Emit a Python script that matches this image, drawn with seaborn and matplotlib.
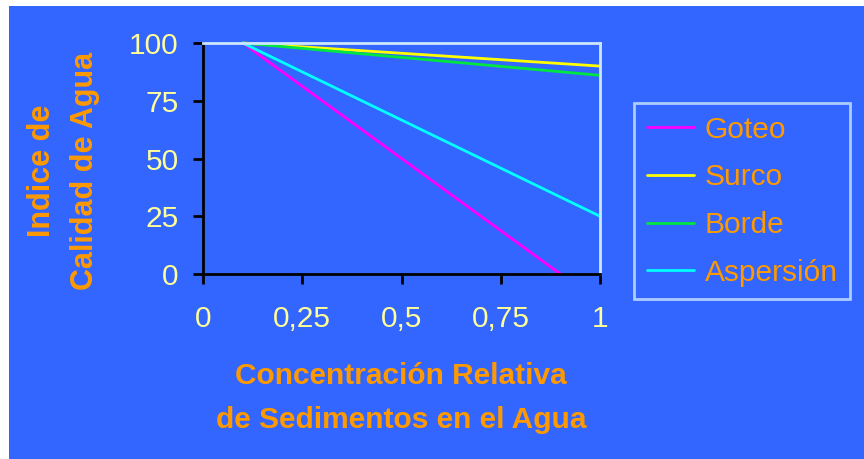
import matplotlib
matplotlib.use("Agg")
import matplotlib.pyplot as plt
import seaborn as sns
import pandas as pd

# Data: relative sediment concentration vs. water quality index per irrigation method
metodos = ["Goteo", "Surco", "Borde", "Aspersión"]
conc_goteo = [0.1, 0.9]
indice_goteo = [100, 0]
conc_surco = [0.1, 1.0]
indice_surco = [100, 90]
conc_borde = [0.1, 1.0]
indice_borde = [100, 86]
conc_aspersion = [0.1, 1.0]
indice_aspersion = [100, 25]
colores = ["#FF00FF", "#FFFF00", "#00E640", "#00FFFF"]

x_ticks = [0, 0.25, 0.5, 0.75, 1]
x_ticklabels = ["0", "0,25", "0,5", "0,75", "1"]
y_ticks = [0, 25, 50, 75, 100]
y_ticklabels = ["0", "25", "50", "75", "100"]

df = pd.concat([
    pd.DataFrame({"conc": conc_goteo, "indice": indice_goteo, "metodo": "Goteo"}),
    pd.DataFrame({"conc": conc_surco, "indice": indice_surco, "metodo": "Surco"}),
    pd.DataFrame({"conc": conc_borde, "indice": indice_borde, "metodo": "Borde"}),
    pd.DataFrame({"conc": conc_aspersion, "indice": indice_aspersion, "metodo": "Aspersión"}),
], ignore_index=True)

sns.set_style("ticks")
plt.rcParams["font.family"] = ["Liberation Sans", "DejaVu Sans"]

BLUE = "#3366FF"
ORANGE = "#FF9900"
TICKC = "#FFFF99"
FRAME = "#CCE6FF"

W, H = 864, 459
fig = plt.figure(figsize=(W / 100, H / 100), dpi=100)
fig.patch.set_facecolor("white")
# blue panel behind everything
fig.patches.append(plt.Rectangle((9 / W, 0), 1 - 9 / W, 1 - 6 / H,
                                 transform=fig.transFigure, facecolor=BLUE,
                                 edgecolor="none", zorder=-10))

ax = fig.add_axes([203 / W, 1 - 274 / H, (600 - 203) / W, (274 - 43) / H])
ax.set_facecolor(BLUE)

sns.lineplot(data=df, x="conc", y="indice", hue="metodo", hue_order=metodos,
             palette=colores, linewidth=2, ax=ax, legend=False)
for ln in ax.lines:
    ln.set_clip_on(False)

ax.set_xlim(0, 1)
ax.set_ylim(0, 100)
ax.set_xticks(x_ticks)
ax.set_xticklabels(x_ticklabels)
ax.set_yticks(y_ticks)
ax.set_yticklabels(y_ticklabels)
ax.tick_params(axis="both", direction="out", length=7.5, width=2, color="black",
               labelcolor=TICKC, labelsize=21.5)
ax.tick_params(axis="x", pad=15)
ax.tick_params(axis="y", pad=10)
ax.set_xlabel("")
ax.set_ylabel("")
for side in ["left", "bottom"]:
    ax.spines[side].set_color("black")
    ax.spines[side].set_linewidth(2)
for side in ["top", "right"]:
    ax.spines[side].set_visible(True)
    ax.spines[side].set_color(FRAME)
    ax.spines[side].set_linewidth(2)

# Legend
handles = [plt.Line2D([], [], color=c, linewidth=2) for c in colores]
leg = fig.legend(handles, metodos, loc="upper left",
                 bbox_to_anchor=(634 / W, 1 - 103 / H), borderaxespad=0,
                 frameon=True, fancybox=False, fontsize=21.5, labelcolor=ORANGE,
                 handlelength=1.6, handletextpad=0.35, labelspacing=0.66,
                 borderpad=0.42)
leg.get_frame().set_facecolor(BLUE)
leg.get_frame().set_edgecolor(FRAME)
leg.get_frame().set_linewidth(2)

# Axis titles
fig.text(401 / W, 1 - 398 / H, "Concentración Relativa\nde Sedimentos en el Agua",
         ha="center", va="center", color=ORANGE, fontsize=21.5,
         fontweight="bold", linespacing=1.72)
fig.text(63.5 / W, 1 - 171 / H, "Indice de\nCalidad de Agua", ha="center",
         va="center", rotation=90, color=ORANGE, fontsize=22,
         fontweight="bold", linespacing=1.55)

fig.savefig("out.png", dpi=100, facecolor=fig.get_facecolor())
